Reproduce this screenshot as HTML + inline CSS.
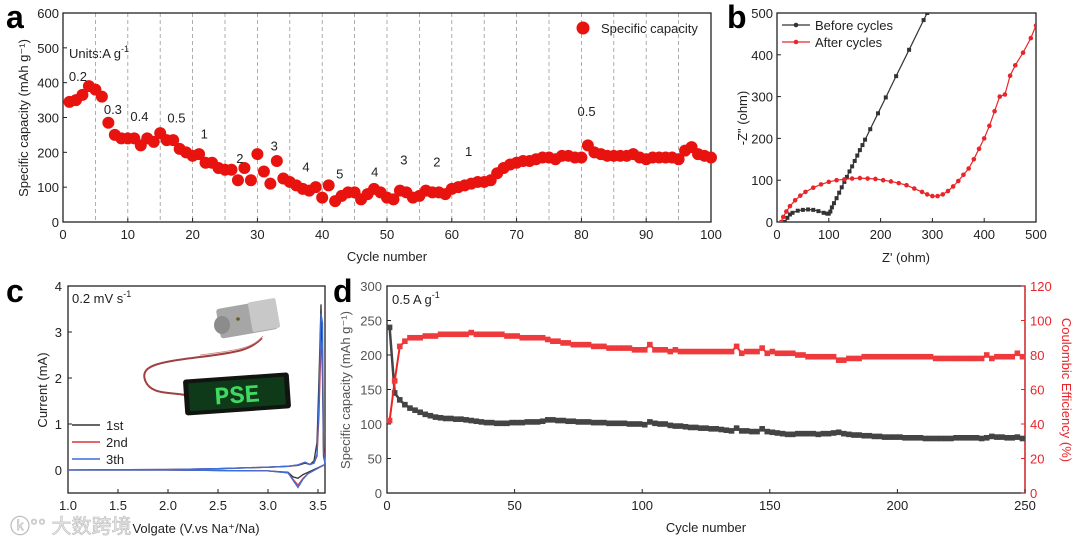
<!DOCTYPE html>
<html><head><meta charset="utf-8"><style>
html,body{margin:0;padding:0;background:#fff;}
svg{display:block;font-family:"Liberation Sans","Noto Sans CJK SC",sans-serif;}
</style></head><body>
<svg id="fig" width="1080" height="543" viewBox="0 0 1080 543" xmlns="http://www.w3.org/2000/svg">
<g id="inset">
  <path d="M262,338 C250,350 240,352 200,357 C160,362 140,365 145,380 C150,395 170,392 185,395" fill="none" stroke="#a04040" stroke-width="2"/>
  <path d="M263,336 C252,348 240,350 200,355" fill="none" stroke="#d08080" stroke-width="0.8"/>
  <rect x="218" y="304" width="58" height="30" rx="3" fill="#a7a6a6" transform="rotate(-10 247 319)"/>
  <rect x="250" y="300" width="28" height="30" rx="2" fill="#c9c8c8" transform="rotate(-10 264 315)"/>
  <ellipse cx="222" cy="325" rx="8" ry="9" fill="#8c8c8c"/>
  <circle cx="238" cy="319" r="1.8" fill="#6a5a20"/>
  <g transform="rotate(-4 236 394)">
    <rect x="184" y="376" width="106" height="36" rx="3" fill="#101510"/>
    <rect x="189" y="380" width="96" height="28" fill="#0f3a1a"/>
    <text x="237" y="403" text-anchor="middle" font-family="Liberation Mono, monospace" font-weight="bold" font-size="25" fill="#3fd860">PSE</text>
  </g>
</g>
</svg>
<script>
const svg=document.getElementById('fig');
const NS='http://www.w3.org/2000/svg';
function mk(tag,attrs,parent,txt){const e=document.createElementNS(NS,tag);for(const k in attrs)e.setAttribute(k,attrs[k]);if(txt!==undefined)e.textContent=txt;(parent||svg).appendChild(e);return e;}

// ---------- Panel a data ----------
const aCycles=[1,2,3,4,5,6,7,8,9,10,11,12,13,14,15,16,17,18,19,20,21,22,23,24,25,26,27,28,29,30,31,32,33,34,35,36,37,38,39,40,41,42,43,44,45,46,47,48,49,50,51,52,53,54,55,56,57,58,59,60,61,62,63,64,65,66,67,68,69,70,71,72,73,74,75,76,77,78,79,80,81,82,83,84,85,86,87,88,89,90,91,92,93,94,95,96,97,98,99,100];
const aCapacity=[345,350,365,390,380,360,285,250,240,240,240,220,240,230,255,235,235,210,200,190,195,170,170,155,150,150,120,155,120,195,145,110,175,125,115,105,95,90,100,70,105,60,75,85,85,65,80,95,85,70,65,90,85,70,75,90,85,85,80,95,100,105,110,115,115,120,140,155,165,170,175,175,180,185,185,180,190,190,185,185,220,200,195,190,190,190,190,195,185,180,185,185,185,185,180,205,215,195,190,185];
const aXTicks=[0,10,20,30,40,50,60,70,80,90,100];
const aYTicks=[0,100,200,300,400,500,600];
const aRateLabels=['0.2','0.3','0.4','0.5','1','2','3','4','5','4','3','2','1','0.5'];
const aRateX=[2.3,7.7,11.8,17.5,21.8,27.3,32.6,37.5,42.7,48.1,52.6,57.7,62.6,80.8];
const aRateY=[405,310,290,285,240,170,205,145,125,130,165,160,190,305];
const aDash=[5,10,15,20,25,30,35,40,45,50,55,60,65,70,75,80,85,90,95];

// ---------- Panel b data ----------
const bBeforeX=[15,20,25,30,40,50,60,70,80,90,97,100,103,106,110,115,120,125,130,135,140,145,150,155,160,165,170,180,195,210,230,255,283,290];
const bBeforeY=[0,10,18,22,27,29,30,29,26,22,20,20,25,35,45,57,70,83,96,108,121,133,146,159,172,184,197,222,260,298,349,412,483,500];
const bAfterX=[8,12,18,25,35,45,55,70,85,100,115,130,145,160,175,190,205,220,235,250,265,280,290,300,310,320,330,340,350,360,370,380,390,400,410,420,430,440,450,460,475,490,500];
const bAfterY=[0,12,25,38,52,63,72,82,90,96,100,102,104,105,104,103,100,97,93,88,80,72,66,62,62,66,74,85,98,113,128,150,175,200,230,265,300,305,350,375,405,440,470];
const bTicks=[0,100,200,300,400,500];
const bSeriesNames=['Before cycles','After cycles'];

// ---------- Panel c data ----------
const cForwardV=[1.0,2.0,2.5,3.0,3.2,3.3,3.37,3.42,3.46,3.49,3.51,3.53,3.545,3.555,3.57];
const c1stFwd=[0,0.01,0.03,0.06,0.08,0.1,0.15,0.12,0.2,0.6,2.0,3.6,2.0,0.3,0.15];
const c2ndFwd=[0,0.01,0.03,0.06,0.08,0.11,0.17,0.12,0.15,0.3,1.2,2.8,2.6,0.5,0.15];
const c3rdFwd=[0,0.01,0.03,0.06,0.08,0.11,0.17,0.12,0.15,0.35,1.5,3.4,3.2,0.4,0.15];
const cReverseV=[3.57,3.5,3.4,3.35,3.3,3.25,3.2,3.0,2.5,2.0,1.0];
const c1stRev=[0.12,0.05,-0.05,-0.1,-0.18,-0.15,-0.05,-0.02,-0.01,0,0];
const c2ndRev=[0.12,0.04,-0.08,-0.18,-0.33,-0.2,-0.06,-0.02,-0.01,0,0];
const c3rdRev=[0.12,0.04,-0.08,-0.2,-0.38,-0.22,-0.06,-0.02,-0.01,0,0];
const cXTicks=[1.0,1.5,2.0,2.5,3.0,3.5];
const cYTicks=[0,1,2,3,4];
const cNames=['1st','2nd','3th'];

// ---------- Panel d data ----------
const dCapacity=[240,145,135,128,123,120,117,114,112,110,109,108,108,107,107,106,105,104,103,102,102,101,101,101,102,102,102,103,103,103,104,106,106,105,105,104,104,103,103,103,102,102,102,101,101,101,101,100,100,100,99,103,101,100,100,98,97,97,96,95,95,94,94,93,93,92,91,90,94,90,90,89,89,93,89,88,87,86,85,85,86,86,86,86,85,86,86,87,88,86,85,84,84,83,83,82,82,81,81,81,81,80,80,80,80,79,79,79,79,79,79,80,80,80,80,80,79,80,82,81,81,80,80,81,79];
const dCE=[42,65,85,88,90,90,90,91,91,91,92,92,92,92,92,92,93,92,92,92,92,92,92,91,91,91,90,90,90,90,90,89,88,88,87,87,86,86,86,86,85,85,85,84,84,84,84,84,83,83,83,86,83,83,83,82,83,82,82,82,82,82,82,82,82,82,82,82,85,81,82,82,82,84,81,82,81,81,81,81,80,80,79,79,79,79,79,79,77,77,78,78,78,79,79,79,79,79,79,79,79,79,79,79,79,79,79,78,78,78,78,78,78,78,78,78,78,80,78,79,79,79,79,81,79];
const dXTicks=[0,50,100,150,200,250];
const dYTicks=[0,50,100,150,200,250,300];
const dY2Ticks=[0,20,40,60,80,100,120];

// ---------- helpers ----------
function lin(d0,d1,p0,p1){return v=>p0+(v-d0)*(p1-p0)/(d1-d0);}
function frame(x0,y0,x1,y1,name){mk('rect',{x:x0,y:y0,width:x1-x0,height:y1-y0,fill:'none',stroke:'#222','stroke-width':1.3,});}
function txt(x,y,s,o){o=o||{};const e=mk('text',{x:x,y:y,'font-size':o.fs||13,fill:o.fill||'#222','text-anchor':o.anchor||'middle'},null,s);if(o.rot)e.setAttribute('transform','rotate(-90 '+x+' '+y+')');if(o.bold)e.setAttribute('font-weight','bold');return e;}
function sup(e,s){mk('tspan',{dy:-6,'font-size':9},e,s);}
function pathD(xs,ys,sx,sy){return xs.map((v,i)=>(i?'L':'M')+sx(v).toFixed(1)+','+sy(ys[i]).toFixed(1)).join(' ');}

// ================= Panel a =================
{
const x0=63,x1=711,yT=13,yB=222;
const sx=lin(0,100,x0,x1), sy=lin(0,600,yB,yT);
aDash.forEach(c=>{const l=mk('line',{x1:sx(c),x2:sx(c),y1:yT,y2:yB,stroke:'#999','stroke-dasharray':'4,3','stroke-width':0.8});

});
frame(x0,yT,x1,yB,'panel-a-plot-area');
aXTicks.forEach(t=>{mk('line',{x1:sx(t),x2:sx(t),y1:yB,y2:yB-4,stroke:'#222'});const e=txt(sx(t),yB+17,String(t));});
aYTicks.forEach(t=>{mk('line',{x1:x0,x2:x0+4,y1:sy(t),y2:sy(t),stroke:'#222'});const e=txt(x0-4,sy(t)+5,String(t),{anchor:'end'});});
aCycles.forEach((c,i)=>{const d=mk('circle',{cx:sx(c),cy:sy(aCapacity[i]),r:6,fill:'#e8130e'});

});
aRateLabels.forEach((s,i)=>{const e=txt(sx(aRateX[i]),sy(aRateY[i]),s);});
const u=txt(69,58,'Units:A g',{anchor:'start'});
sup(u,'-1');
const lg=mk('circle',{cx:583,cy:28,r:6.5,fill:'#e8130e'});
const lt=txt(601,33,'Specific capacity',{anchor:'start'});
const xt=txt(387,261,'Cycle number');
const yt=txt(28,118,'Specific capacity (mAh g\u207B\u00B9)',{rot:true});
const pl=txt(6,28,'a',{anchor:'start',fs:32,bold:true,fill:'#000'});
}

// ================= Panel b =================
{
const x0=777,x1=1036,yT=13,yB=222;
const sx=lin(0,500,x0,x1), sy=lin(0,500,yB,yT);
mk('defs',{}).innerHTML='<clipPath id="cb"><rect x="777" y="13" width="259" height="209"/></clipPath>';
frame(x0,yT,x1,yB,'panel-b-plot-area');
bTicks.forEach(t=>{mk('line',{x1:sx(t),x2:sx(t),y1:yB,y2:yB-4,stroke:'#222'});const e=txt(sx(t),yB+17,String(t));
mk('line',{x1:x0,x2:x0+4,y1:sy(t),y2:sy(t),stroke:'#222'});const f=txt(x0-4,sy(t)+5,String(t),{anchor:'end'});});
const g=mk('g',{'clip-path':'url(#cb)'});
const bl=mk('path',{d:pathD(bBeforeX,bBeforeY,sx,sy),fill:'none',stroke:'#333','stroke-width':1.2},g);

bBeforeX.forEach((v,i)=>{const m=mk('rect',{x:sx(v)-2,y:sy(bBeforeY[i])-2,width:4,height:4,fill:'#333'},g);});
const al=mk('path',{d:pathD(bAfterX,bAfterY,sx,sy),fill:'none',stroke:'#e8262a','stroke-width':1.2},g);

bAfterX.forEach((v,i)=>{const m=mk('circle',{cx:sx(v),cy:sy(bAfterY[i]),r:2.3,fill:'#e8262a'},g);});
const cols=['#333','#e8262a'];
bSeriesNames.forEach((n,i)=>{const y=25+i*17;mk('line',{x1:782,x2:810,y1:y,y2:y,stroke:cols[i],'stroke-width':1.2});mk('circle',{cx:796,cy:y,r:2.3,fill:cols[i]});const e=txt(815,y+5,n,{anchor:'start'});});
const xt=txt(906,262,"Z' (ohm)");
const yt=txt(747,118,'-Z" (ohm)',{rot:true});
const pl=txt(727,28,'b',{anchor:'start',fs:32,bold:true,fill:'#000'});
}

// ================= Panel c =================
{
const x0=68,x1=325,yT=286,yB=493;
const sx=lin(1.0,3.5,68,318), sy=lin(0,4,470,286);
frame(x0,yT,x1,yB,'panel-c-plot-area');
cXTicks.forEach(t=>{mk('line',{x1:sx(t),x2:sx(t),y1:yB,y2:yB-4,stroke:'#222'});const e=txt(sx(t),yB+17,t.toFixed(1));});
cYTicks.forEach(t=>{mk('line',{x1:x0,x2:x0+4,y1:sy(t),y2:sy(t),stroke:'#222'});const e=txt(x0-6,sy(t)+5,String(t),{anchor:'end'});});
const cols=['#333','#d9363a','#3a6fd8'];
const fw=[c1stFwd,c2ndFwd,c3rdFwd], rv=[c1stRev,c2ndRev,c3rdRev];
cNames.forEach((n,i)=>{
 const p=mk('path',{d:pathD(cForwardV,fw[i],sx,sy)+' '+pathD(cReverseV,rv[i],sx,sy).replace('M','L'),fill:'none',stroke:cols[i],'stroke-width':1.3});
 
 
 const y=425+i*17;mk('line',{x1:72,x2:100,y1:y,y2:y,stroke:cols[i],'stroke-width':1.5});
 const e=txt(106,y+5,n,{anchor:'start'});
});
const s=txt(72,303,'0.2 mV s',{anchor:'start'});
sup(s,'-1');
const xt=txt(196,533,'Volgate (V.vs Na\u207A/Na)');
const yt=txt(47,390,'Current (mA)',{rot:true});
const pl=txt(6,302,'c',{anchor:'start',fs:32,bold:true,fill:'#000'});
const wm=txt(10,533,'\u24DA\u00B0\u00B0 大数跨境',{anchor:'start',fs:20,fill:'#e8e8e8'});wm.setAttribute('stroke','#bbb');wm.setAttribute('stroke-width','0.6');
svg.appendChild(document.getElementById('inset'));
}

// ================= Panel d =================
{
const x0=387,x1=1025,yT=286,yB=493;
const sx=lin(0,250,x0,x1), sy=lin(0,300,yB,yT), sy2=lin(0,120,yB,yT);
frame(x0,yT,x1,yB,'panel-d-plot-area');
mk('line',{x1:x1,x2:x1,y1:yT,y2:yB,stroke:'#e8262a','stroke-width':1.3});
dXTicks.forEach(t=>{mk('line',{x1:sx(t),x2:sx(t),y1:yB,y2:yB-4,stroke:'#222'});const e=txt(sx(t),yB+17,String(t));});
dYTicks.forEach(t=>{mk('line',{x1:x0,x2:x0+4,y1:sy(t),y2:sy(t),stroke:'#222'});const e=txt(x0-5,sy(t)+5,String(t),{anchor:'end',fill:'#555'});});
dY2Ticks.forEach(t=>{mk('line',{x1:x1,x2:x1-4,y1:sy2(t),y2:sy2(t),stroke:'#e8262a'});const e=txt(x1+5,sy2(t)+5,String(t),{anchor:'start',fill:'#e8262a'});});
const cyc=dCapacity.map((v,i)=>1+2*i);
const cl=mk('path',{d:pathD(cyc,dCapacity,sx,sy),fill:'none',stroke:'#444','stroke-width':2.5});

dCapacity.forEach((v,i)=>{const m=mk('rect',{x:sx(cyc[i])-2.8,y:sy(v)-2.8,width:5.6,height:5.6,fill:'#444'});});
const el=mk('path',{d:pathD(cyc,dCE,sx,sy2),fill:'none',stroke:'#e8262a','stroke-width':2});

dCE.forEach((v,i)=>{const m=mk('rect',{x:sx(cyc[i])-2.8,y:sy2(v)-2.8,width:5.6,height:5.6,fill:'#ee3a3c'});});
const s=txt(392,304,'0.5 A g',{anchor:'start'});
sup(s,'-1');
const xt=txt(706,532,'Cycle number');
const yt=txt(350,390,'Specific capacity (mAh g\u207B\u00B9)',{rot:true,fill:'#555'});
const y2=txt(1062,390,'Coulombic Efficiency (%)',{rot:true,fill:'#e8262a'});y2.setAttribute('transform','rotate(90 1062 390)');
const pl=txt(333,302,'d',{anchor:'start',fs:32,bold:true,fill:'#000'});
}
</script>
</body></html>
